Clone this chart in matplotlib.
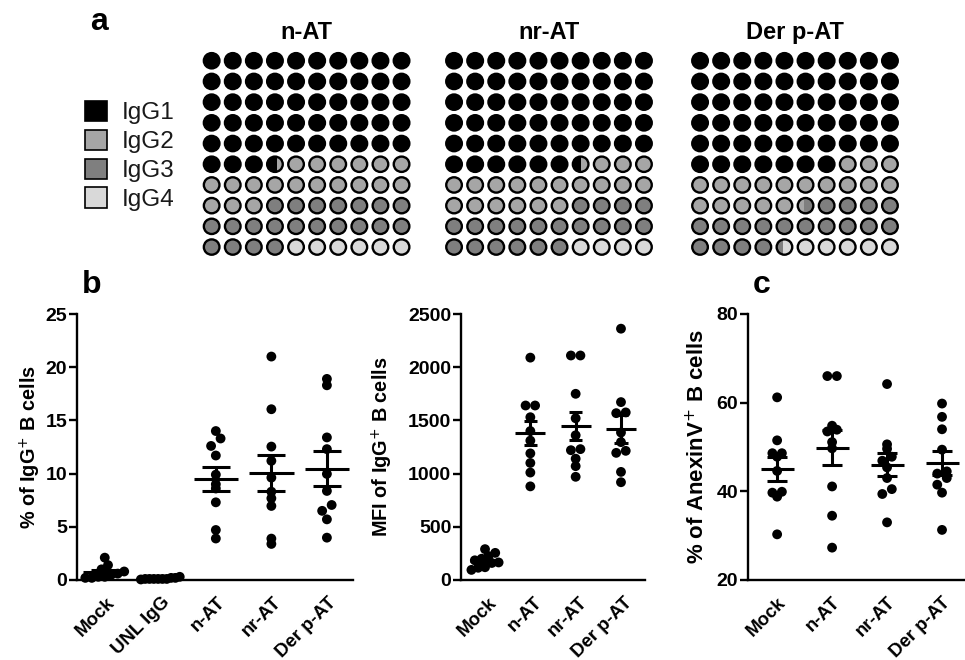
import numpy as np
import matplotlib.pyplot as plt
from matplotlib.patches import Circle, Rectangle, Patch
from matplotlib.transforms import ScaledTranslation

plt.rcParams['font.family'] = ['Liberation Sans', 'DejaVu Sans']

# ---- panel a: IgG subclass share (%), 100 dots per waffle
subclasses = ['IgG1', 'IgG2', 'IgG3', 'IgG4']
sub_colors = ['#000000', '#a6a6a6', '#7f7f7f', '#d9d9d9']
waffle_titles = ['n-AT', 'nr-AT', 'Der p-AT']
share_nAT = [53.6, 19.4, 21.0, 6.0]
share_nrAT = [56.5, 19.5, 20.0, 4.0]
share_derp = [57.0, 18.4, 19.0, 5.6]

# ---- panel b left: % of IgG+ B cells
b1_groups = ['Mock', 'UNL IgG', 'n-AT', 'nr-AT', 'Der p-AT']
b1_mock = [1.4, 2.1, 1.0, 0.8, 0.6, 0.5, 0.3, 0.2, 0.3, 0.2]
b1_unl = [0.3, 0.2, 0.2, 0.1, 0.1, 0.1, 0.1, 0.1, 0.05, 0.1]
b1_nat = [13.3, 14.0, 12.6, 11.7, 9.9, 9.0, 8.6, 7.3, 4.7, 3.9]
b1_nrat = [21.0, 16.05, 12.54, 11.2, 9.62, 8.3, 7.68, 6.96, 3.89, 3.39]
b1_derp = [18.9, 18.3, 13.4, 12.3, 9.97, 8.37, 7.05, 6.5, 5.7, 3.98]

# ---- panel b right: MFI of IgG+ B cells
b2_groups = ['Mock', 'n-AT', 'nr-AT', 'Der p-AT']
b2_mock = [290, 255, 225, 200, 185, 165, 160, 120, 115, 95]
b2_nat = [2090, 1640, 1640, 1530, 1400, 1310, 1190, 1100, 1010, 880]
b2_nrat = [2110, 2110, 1750, 1520, 1360, 1230, 1220, 1140, 1070, 970]
b2_derp = [2362, 1672, 1568, 1575, 1386, 1296, 1195, 1214, 1016, 919]

# ---- panel c: % of AnexinV+ B cells
c_groups = ['Mock', 'n-AT', 'nr-AT', 'Der p-AT']
c_mock = [61.2, 51.5, 48.6, 48.6, 47.8, 44.6, 39.9, 39.7, 38.8, 30.3]
c_nat = [66.0, 66.0, 54.8, 53.9, 53.5, 51.1, 49.7, 41.1, 34.5, 27.3]
c_nrat = [64.2, 50.6, 49.6, 47.8, 46.9, 45.4, 43.0, 40.5, 39.4, 33.0]
c_derp = [59.8, 56.8, 54.0, 49.4, 44.5, 44.0, 43.0, 41.5, 39.7, 31.3]

W, H = 965, 660
fig = plt.figure(figsize=(W / 100, H / 100), dpi=100)


def px_axes(left, top, right, bottom):
    return fig.add_axes([left / W, 1 - bottom / H, (right - left) / W, (bottom - top) / H])


def draw_waffle(ax, shares, title, r=0.37):
    bounds = np.concatenate([[0], np.cumsum(shares)])
    for cell in range(100):
        row, col = divmod(cell, 10)
        cx, cy = col + 0.5, row + 0.5
        segs = []
        for k in range(4):
            lo = max(bounds[k], cell)
            hi = min(bounds[k + 1], cell + 1)
            if hi - lo > 1e-6:
                segs.append((lo - cell, hi - cell, sub_colors[k]))
        base = Circle((cx, cy), r, facecolor=segs[-1][2], edgecolor='none')
        ax.add_patch(base)
        for lo, hi, c in segs[:-1]:
            x0 = cx - r + lo * 2 * r
            rect = Rectangle((x0, cy - r), (hi - lo) * 2 * r, 2 * r, facecolor=c, edgecolor='none')
            ax.add_patch(rect)
            rect.set_clip_path(base)
        ax.add_patch(Circle((cx, cy), r, facecolor='none', edgecolor='black', lw=1.7))
    ax.set_xlim(0, 10)
    ax.set_ylim(10, 0)
    ax.axis('off')
    ax.text(5, -0.55, title, ha='center', va='baseline', fontsize=17, weight='bold')


for left, shares, title in zip([201.1, 443.5, 689.5], [share_nAT, share_nrAT, share_derp], waffle_titles):
    draw_waffle(px_axes(left, 50.4, left + 211, 257.4), shares, title)

handles = [Patch(facecolor=c, edgecolor='black', lw=1.2) for c in sub_colors]
fig.legend(handles, subclasses, loc='upper left', bbox_to_anchor=(63 / W, 1 - 79 / H),
           frameon=False, fontsize=17.5, handlelength=0.9, handleheight=0.9,
           labelspacing=0.22, handletextpad=0.6, labelcolor='#1a1a1a')


def swarm(vals, px_per_y, px_per_x, d=9.5, lim=0.3):
    vals = np.asarray(vals, float)
    bins = np.floor(vals * px_per_y / d).astype(int)
    offs = np.zeros(len(vals))
    for b in np.unique(bins):
        idx = np.where(bins == b)[0]
        idx = idx[np.argsort(vals[idx])]
        n = len(idx)
        offs[idx] = (np.arange(n) - (n - 1) / 2) * d / px_per_x
    m = np.abs(offs).max()
    if m > lim:
        offs *= lim / m
    return offs


def dot_panel(ax, groups, data, ylim, xlim, ticks, ylabel, ax_px, mw, cw, lim,
              label_x, label_size=14.3, xshift=0):
    ax_w, ax_h = ax_px
    ymin, ymax = ylim
    xmin, xmax = xlim
    px_per_x = ax_w / (xmax - xmin)
    px_per_y = ax_h / (ymax - ymin)
    for i, vals in enumerate(data):
        vals = np.asarray(vals, float)
        offs = swarm(vals - ymin, px_per_y, px_per_x, lim=lim)
        ax.scatter(i + offs, vals, s=50, color='black', edgecolors='none', zorder=3, clip_on=False)
        mean = vals.mean()
        sem = vals.std(ddof=1) / np.sqrt(len(vals))
        ax.hlines(mean, i - mw, i + mw, color='black', lw=2.2, zorder=4)
        ax.vlines(i, mean - sem, mean + sem, color='black', lw=2.2, zorder=4)
        ax.hlines([mean - sem, mean + sem], i - cw, i + cw, color='black', lw=2.2, zorder=4)
    ax.set_xlim(xmin, xmax)
    ax.set_ylim(ymin, ymax)
    ax.set_yticks(ticks)
    ax.set_xticks(range(len(groups)))
    ax.set_xticklabels(groups, rotation=45, ha='right', va='top', rotation_mode='anchor')
    for sp in ['top', 'right']:
        ax.spines[sp].set_visible(False)
    for sp in ['left', 'bottom']:
        ax.spines[sp].set_linewidth(1.7)
    ax.tick_params(axis='y', length=5.5, width=1.7, pad=1.5, labelsize=14)
    ax.tick_params(axis='x', length=0, pad=10, labelsize=13.4)
    shift = ScaledTranslation(xshift / 100, 0, fig.dpi_scale_trans)
    for lab in ax.get_xticklabels():
        lab.set_fontweight('bold')
        lab.set_transform(lab.get_transform() + shift)
    for lab in ax.get_yticklabels():
        lab.set_fontweight('bold')
    ax.set_ylabel(ylabel, fontsize=label_size, weight='bold')
    ax.yaxis.set_label_coords(label_x, 0.5)


ax_b1 = px_axes(77, 314, 353, 580)
dot_panel(ax_b1, b1_groups, [b1_mock, b1_unl, b1_nat, b1_nrat, b1_derp], (0, 25), (-0.5, 4.47),
          [0, 5, 10, 15, 20, 25], '% of IgG$^{+}$ B cells', (276, 266), 0.4, 0.25, 0.35, -0.122,
          xshift=1)

ax_b2 = px_axes(461, 314, 645, 580)
dot_panel(ax_b2, b2_groups, [b2_mock, b2_nat, b2_nrat, b2_derp], (0, 2500), (-0.53, 3.53),
          [0, 500, 1000, 1500, 2000, 2500], 'MFI of IgG$^{+}$ B cells', (184, 266), 0.33, 0.15, 0.3, -0.36,
          xshift=3)

ax_c = px_axes(748, 314, 964, 580)
dot_panel(ax_c, c_groups, [c_mock, c_nat, c_nrat, c_derp], (20, 80), (-0.53, 3.4),
          [20, 40, 60, 80], '% of AnexinV$^{+}$ B cells', (216, 266), 0.3, 0.18, 0.3, -0.178,
          label_size=16, xshift=0)

fig.text(90 / W, 1 - 30 / H, 'a', fontsize=23, weight='bold', va='baseline')
fig.text(82 / W, 1 - 293 / H, 'b', fontsize=23, weight='bold', va='baseline')
fig.text(753 / W, 1 - 293 / H, 'c', fontsize=23, weight='bold', va='baseline')

fig.savefig('out.png', dpi=100)
